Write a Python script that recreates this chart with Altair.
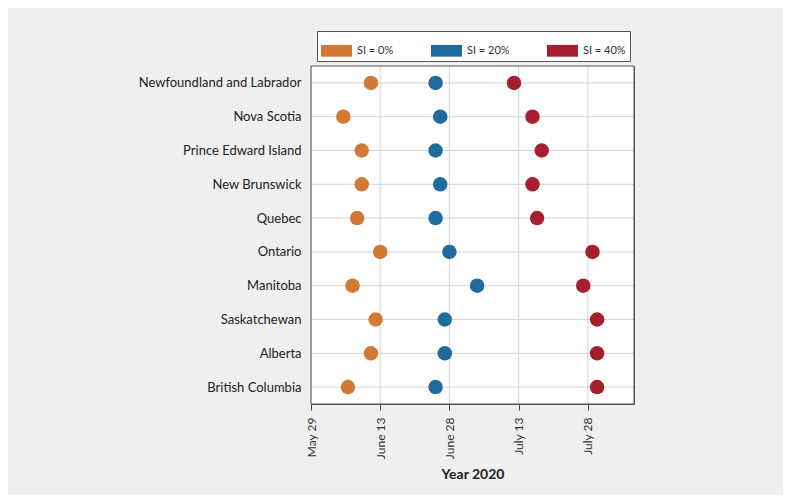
import altair as alt
import pandas as pd

provinces = ["Newfoundland and Labrador", "Nova Scotia", "Prince Edward Island",
             "New Brunswick", "Quebec", "Ontario", "Manitoba", "Saskatchewan",
             "Alberta", "British Columbia"]
si_0 = ["2020-06-11", "2020-06-05", "2020-06-09", "2020-06-09", "2020-06-08",
        "2020-06-13", "2020-06-07", "2020-06-12", "2020-06-11", "2020-06-06"]
si_20 = ["2020-06-25", "2020-06-26", "2020-06-25", "2020-06-26", "2020-06-25",
         "2020-06-28", "2020-07-04", "2020-06-27", "2020-06-27", "2020-06-25"]
si_40 = ["2020-07-12", "2020-07-16", "2020-07-18", "2020-07-16", "2020-07-17",
         "2020-07-29", "2020-07-27", "2020-07-30", "2020-07-30", "2020-07-30"]
series = ["SI = 0%", "SI = 20%", "SI = 40%"]
colors = ["#D27A35", "#1F6B9E", "#A51F2F"]
tick_labels = ["2020-05-29", "2020-06-13", "2020-06-28", "2020-07-13", "2020-07-28"]
x_domain = ["2020-05-29", "2020-08-07"]

rows = []
for s, vals in zip(series, [si_0, si_20, si_40]):
    for p, d in zip(provinces, vals):
        rows.append({"province": p, "date": d, "series": s})
df = pd.DataFrame(rows)


def dt(s):
    y, m, d = (int(v) for v in s.split("-"))
    return alt.DateTime(year=y, month=m, date=d, utc=True)


tick_dates = [dt(s) for s in tick_labels]
x_scale = alt.Scale(type="utc", domain=[dt(s) for s in x_domain])
y_scale = alt.Scale(type="point", padding=0.5, domain=provinces)

panel = alt.Chart(pd.DataFrame({"k": [0]})).mark_rect(color="white").encode(
    x=alt.value(0), x2=alt.value("width"), y=alt.value(0), y2=alt.value("height"))

border = alt.Chart(pd.DataFrame({"k": [0]})).mark_rect(
    fillOpacity=0, stroke="#555", strokeWidth=1
).encode(x=alt.value(0), x2=alt.value("width"), y=alt.value(0), y2=alt.value("height"))

vgrid = alt.Chart(pd.DataFrame({"tick": tick_labels})).mark_rule(
    color="#d3d3d3", strokeWidth=1
).encode(x=alt.X("tick:T", scale=x_scale))

hgrid = alt.Chart(pd.DataFrame({"province": provinces})).mark_rule(
    color="#d3d3d3", strokeWidth=1
).encode(y=alt.Y("province:N", scale=y_scale, sort=provinces))

points = alt.Chart(df).mark_circle(size=210, opacity=1).encode(
    x=alt.X("date:T", scale=x_scale,
            axis=alt.Axis(values=tick_dates, format="%B %d", labelAngle=270,
                          title="Year 2020", tickSize=6, tickColor="#444",
                          domainColor="#555", labelPadding=7,
                          labelFontSize=12, labelColor="#333",
                          titleFontSize=14, titleFontWeight="bold", titleColor="#222",
                          titlePadding=9, grid=False)),
    y=alt.Y("province:N", sort=provinces, scale=y_scale,
            axis=alt.Axis(title=None, ticks=False, domain=False, labelPadding=10,
                          labelFontSize=13, labelColor="#222", grid=False,
                          labelLimit=300)),
    color=alt.Color("series:N", sort=series,
                    scale=alt.Scale(domain=series, range=colors),
                    legend=alt.Legend(title=None, orient="none", legendX=6, legendY=-35,
                                      direction="horizontal",
                                      symbolType="M-1,-0.38H1V0.38H-1Z",
                                      symbolSize=961, symbolOpacity=1,
                                      symbolStrokeWidth=0,
                                      labelFontSize=11, labelColor="#333",
                                      labelOffset=5,
                                      columnPadding=37, padding=4,
                                      fillColor="white", strokeColor="#555")),
)

chart = alt.layer(panel, vgrid, hgrid, points, border).properties(
    width=323, height=338,
    background="#eeefee",
    padding={"left": 303, "top": 58, "right": 149, "bottom": 91},
    autosize=alt.AutoSizeParams(type="none"),
).configure(
    font="Lato",
    view=alt.ViewConfig(stroke="#555", strokeWidth=1),
)

chart.save("out.html", embed_options={"renderer": "svg", "actions": False})
